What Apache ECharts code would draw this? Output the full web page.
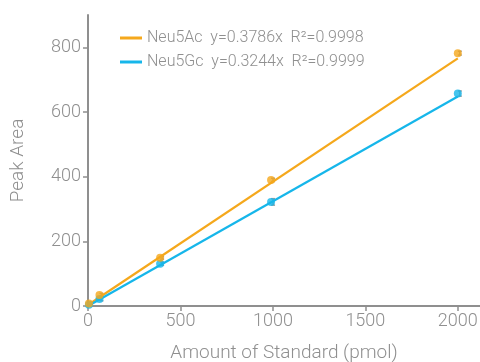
<!DOCTYPE html>
<html>
<head>
<meta charset="utf-8">
<script src="https://cdn.jsdelivr.net/npm/echarts@6/dist/echarts.min.js"></script>
<style>
  html, body { margin: 0; padding: 0; background: #fff; }
  #chart { width: 480px; height: 362px; }
</style>
</head>
<body>
<div id="chart"></div>
<script>
// standard amounts (pmol)
const amounts = [5, 62, 390, 990, 2000];
const acArea = [8, 34, 149, 390, 782];
const gcArea = [4, 22, 131, 322, 657];
const gcErr = [3, 6, 5, 10, 8];
const acErr = [3, 5, 4, 5, 6];
// fitted lines, end points
const fitX = [0, 2000];
const acFit = [3, 766];
const gcFit = [0, 648];
const xTicks = [0, 500, 1000, 1500, 2000];
const yTicks = [0, 200, 400, 600, 800];

const legendText = {
  Neu5Ac: 'Neu5Ac  y=0.3786x  R\u00b2=0.9998',
  Neu5Gc: 'Neu5Gc  y=0.3244x  R\u00b2=0.9999'
};

const orange = '#f5a81c';
const blue = '#16b6ea';
const grey = '#8f8f8f';

function pairs(xs, ys) {
  return xs.map((x, i) => [x, ys[i]]);
}
function errData(xs, ys, es) {
  return xs.map((x, i) => [x, ys[i] - es[i], ys[i] + es[i]]);
}
function renderErr(params, api) {
  const lo = api.coord([api.value(0), api.value(1)]);
  const hi = api.coord([api.value(0), api.value(2)]);
  const w = 2;
  const st = { stroke: '#9a9a9a', lineWidth: 1.5 };
  return {
    type: 'group',
    children: [
      { type: 'line', shape: { x1: lo[0] + 2, y1: lo[1], x2: hi[0] + 2, y2: hi[1] }, style: st },
      { type: 'line', shape: { x1: lo[0] + 2 - w, y1: lo[1], x2: lo[0] + 2 + w, y2: lo[1] }, style: st },
      { type: 'line', shape: { x1: hi[0] + 2 - w, y1: hi[1], x2: hi[0] + 2 + w, y2: hi[1] }, style: st }
    ]
  };
}

const chart = echarts.init(document.getElementById('chart'));
const tickFont = { color: grey, fontSize: 18, fontFamily: 'Roboto', fontWeight: 300 };
const nameFont = { color: grey, fontSize: 19, fontFamily: 'Roboto', fontWeight: 300 };

chart.setOption({
  animation: false,
  grid: { left: 88, top: 15, right: 0, bottom: 56, outerBoundsMode: 'none' },
  legend: {
    data: ['Neu5Ac', 'Neu5Gc'],
    orient: 'vertical',
    left: 115,
    top: 25,
    itemWidth: 22,
    itemHeight: 3,
    itemGap: 8,
    icon: 'rect',
    formatter: n => legendText[n],
    textStyle: { color: grey, fontSize: 16, fontFamily: 'Roboto', fontWeight: 300 }
  },
  xAxis: {
    type: 'value',
    min: 0,
    max: 2120,
    interval: 500,
    name: 'Amount of Standard (pmol)',
    nameLocation: 'middle',
    nameGap: 38,
    nameTextStyle: nameFont,
    axisLine: { show: true, lineStyle: { color: grey, width: 2 } },
    axisTick: { show: true, length: 5, customValues: xTicks, lineStyle: { color: grey, width: 1.5 } },
    axisLabel: Object.assign({ margin: 6, customValues: xTicks, formatter: v => String(v) }, tickFont),
    splitLine: { show: false }
  },
  yAxis: {
    type: 'value',
    min: 0,
    max: 900,
    interval: 200,
    name: 'Peak Area',
    nameLocation: 'middle',
    nameGap: 60,
    nameTextStyle: nameFont,
    axisLine: { show: true, lineStyle: { color: grey, width: 2 } },
    axisTick: { show: true, length: 5, customValues: yTicks, lineStyle: { color: grey, width: 1.5 } },
    axisLabel: Object.assign({ margin: 7, customValues: yTicks, formatter: v => String(v) }, tickFont),
    splitLine: { show: false }
  },
  series: [
    {
      name: 'Neu5Ac', type: 'line', data: pairs(fitX, acFit),
      symbol: 'none', lineStyle: { color: orange, width: 2.2 }, itemStyle: { color: orange }, z: 3
    },
    {
      name: 'Neu5Gc', type: 'line', data: pairs(fitX, gcFit),
      symbol: 'none', lineStyle: { color: blue, width: 2.2 }, itemStyle: { color: blue }, z: 3
    },
    { type: 'custom', renderItem: renderErr, data: errData(amounts, gcArea, gcErr), z: 2 },
    { type: 'custom', renderItem: renderErr, data: errData(amounts, acArea, acErr), z: 2 },
    {
      name: 'Neu5Gc pts', type: 'scatter', data: pairs(amounts, gcArea),
      symbolSize: 8, itemStyle: { color: blue }, z: 4
    },
    {
      name: 'Neu5Ac pts', type: 'scatter', data: pairs(amounts, acArea),
      symbolSize: 8, itemStyle: { color: orange }, z: 5
    }
  ]
});
</script>
</body>
</html>
